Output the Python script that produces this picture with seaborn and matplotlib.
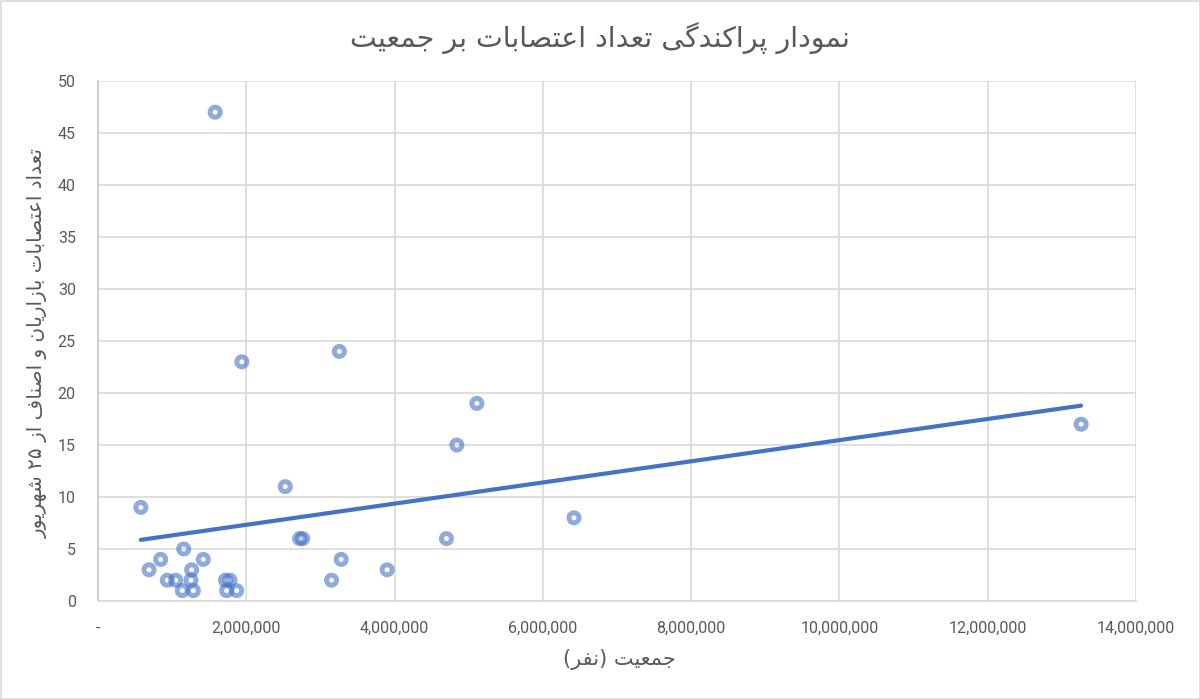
import matplotlib
matplotlib.use("Agg")
import matplotlib.pyplot as plt
import seaborn as sns
import numpy as np
import pandas as pd
from matplotlib.ticker import FuncFormatter
from matplotlib.patches import Rectangle

# ---------------- data ----------------
population = [578000, 688000, 845000, 935000, 1048000, 1137000, 1156000, 1263000,
              1254000, 1286000, 1420000, 1580000, 1720000, 1780000, 1735000, 1870000,
              1940000, 2526000, 2720000, 2760000, 3150000, 3255000, 3280000, 3900000,
              4700000, 4840000, 5110000, 6420000, 13260000]
strikes = [9, 3, 4, 2, 2, 1, 5, 3, 2, 1, 4, 47, 2, 2, 1, 1,
           23, 11, 6, 6, 2, 24, 4, 3, 6, 15, 19, 8, 17]
x_ticks = [0, 2000000, 4000000, 6000000, 8000000, 10000000, 12000000, 14000000]
y_ticks = [0, 5, 10, 15, 20, 25, 30, 35, 40, 45, 50]

title_text = "نمودار پراکندگی تعداد اعتصابات بر جمعیت"
xlabel_text = "جمعیت (نفر)"
ylabel_text = "تعداد اعتصابات بازاریان و اصناف از ۲۵ شهریور"

# ------------- minimal Arabic/Persian shaping (matplotlib has no complex text layout) -------------
# forms: (isolated, final, initial, medial); None for initial/medial => right-joining only
FORMS = {
    'ا': ('\uFE8D', '\uFE8E', None, None),
    'ب': ('\uFE8F', '\uFE90', '\uFE91', '\uFE92'),
    'ت': ('\uFE95', '\uFE96', '\uFE97', '\uFE98'),
    'ج': ('\uFE9D', '\uFE9E', '\uFE9F', '\uFEA0'),
    'د': ('\uFEA9', '\uFEAA', None, None),
    'ر': ('\uFEAD', '\uFEAE', None, None),
    'ز': ('\uFEAF', '\uFEB0', None, None),
    'ش': ('\uFEB5', '\uFEB6', '\uFEB7', '\uFEB8'),
    'ص': ('\uFEB9', '\uFEBA', '\uFEBB', '\uFEBC'),
    'ع': ('\uFEC9', '\uFECA', '\uFECB', '\uFECC'),
    'ف': ('\uFED1', '\uFED2', '\uFED3', '\uFED4'),
    'م': ('\uFEE1', '\uFEE2', '\uFEE3', '\uFEE4'),
    'ن': ('\uFEE5', '\uFEE6', '\uFEE7', '\uFEE8'),
    'ه': ('\uFEE9', '\uFEEA', '\uFEEB', '\uFEEC'),
    'و': ('\uFEED', '\uFEEE', None, None),
    'پ': ('\uFB56', '\uFB57', '\uFB58', '\uFB59'),
    'ک': ('\uFB8E', '\uFB8F', '\uFB90', '\uFB91'),
    'گ': ('\uFB92', '\uFB93', '\uFB94', '\uFB95'),
    'ی': ('\uFBFC', '\uFBFD', '\uFBFE', '\uFBFF'),
}
MIRROR = {'(': ')', ')': '(', '[': ']', ']': '['}


def shape_rtl(s):
    chars = list(s)
    out = []
    for i, c in enumerate(chars):
        if c not in FORMS:
            out.append(c)
            continue
        prev = chars[i - 1] if i > 0 else None
        nxt = chars[i + 1] if i + 1 < len(chars) else None
        dual = FORMS[c][2] is not None
        con_prev = prev in FORMS and FORMS[prev][2] is not None
        con_next = dual and nxt in FORMS
        iso, fin, ini, med = FORMS[c]
        if con_prev and con_next:
            out.append(med)
        elif con_prev:
            out.append(fin)
        elif con_next:
            out.append(ini)
        else:
            out.append(iso)
    # visual order: reverse, keep digit runs LTR, mirror brackets
    rev = out[::-1]
    res = []
    i = 0
    while i < len(rev):
        c = rev[i]
        if c.isdigit():
            j = i
            while j < len(rev) and rev[j].isdigit():
                j += 1
            res.extend(rev[i:j][::-1])
            i = j
        else:
            res.append(MIRROR.get(c, c))
            i += 1
    return ''.join(res)


# ---------------- plot ----------------
sns.set_theme(style="white")
plt.rcParams['font.family'] = ['Roboto', 'DejaVu Sans']

df = pd.DataFrame({"population": population, "strikes": strikes})

fig = plt.figure(figsize=(12, 6.99), dpi=100)
ax = fig.add_axes([98 / 1200, 1 - 601 / 699, 1038 / 1200, 520 / 699])

sns.regplot(data=df, x="population", y="strikes", ax=ax, scatter=False, ci=None,
            truncate=True, line_kws=dict(color="#4472C4", linewidth=3.0, zorder=3))
sns.scatterplot(data=df, x="population", y="strikes", ax=ax, marker="o", s=52,
                facecolor="none", edgecolor="#4472C4", linewidth=3.6, alpha=0.6,
                zorder=4, legend=False)

ax.set_xlim(0, 14000000)
ax.set_ylim(0, 50)
ax.set_xticks(x_ticks)
ax.set_yticks(y_ticks)
ax.xaxis.set_major_formatter(FuncFormatter(lambda v, p: "-" if v == 0 else f"{v:,.0f}"))
ax.yaxis.set_major_formatter(FuncFormatter(lambda v, p: f"{v:.0f}"))
ax.grid(True, color="#d9d9d9", linewidth=1.2)
ax.set_axisbelow(True)
for name, sp in ax.spines.items():
    sp.set_visible(name in ("left", "bottom"))
ax.spines["left"].set_color("#c3c9d6")
ax.spines["left"].set_linewidth(1.2)
ax.spines["bottom"].set_color("#d9d9d9")
ax.spines["bottom"].set_linewidth(1.2)
ax.tick_params(axis="both", length=0, labelsize=11.5, labelcolor="#595959")
ax.tick_params(axis="x", pad=14)
ax.tick_params(axis="y", pad=16)
for lbl in ax.get_yticklabels():
    lbl.set_va("center_baseline")

ax.set_xlabel(shape_rtl(xlabel_text), fontsize=15, color="#595959",
              family=['DejaVu Sans'])
ax.xaxis.set_label_coords(0.502, -0.113)
ax.xaxis.label.set_va("center")
ax.set_ylabel(shape_rtl(ylabel_text), fontsize=14.4, color="#595959",
              family=['DejaVu Sans'])
ax.yaxis.set_label_coords(-0.058, 0.497)
ax.yaxis.label.set_va("center")

fig.text(0.5, 1 - 38 / 699, shape_rtl(title_text), ha="center", va="center",
         fontsize=20.5, color="#595959", family=['DejaVu Sans'])

fig.patches.append(Rectangle((0.5 / 1200, 0.5 / 699), 1 - 1 / 1200, 1 - 1 / 699,
                             transform=fig.transFigure, fill=False,
                             edgecolor="#d9d9d9", linewidth=1.2))

fig.savefig("out.png", dpi=100, facecolor="white")
